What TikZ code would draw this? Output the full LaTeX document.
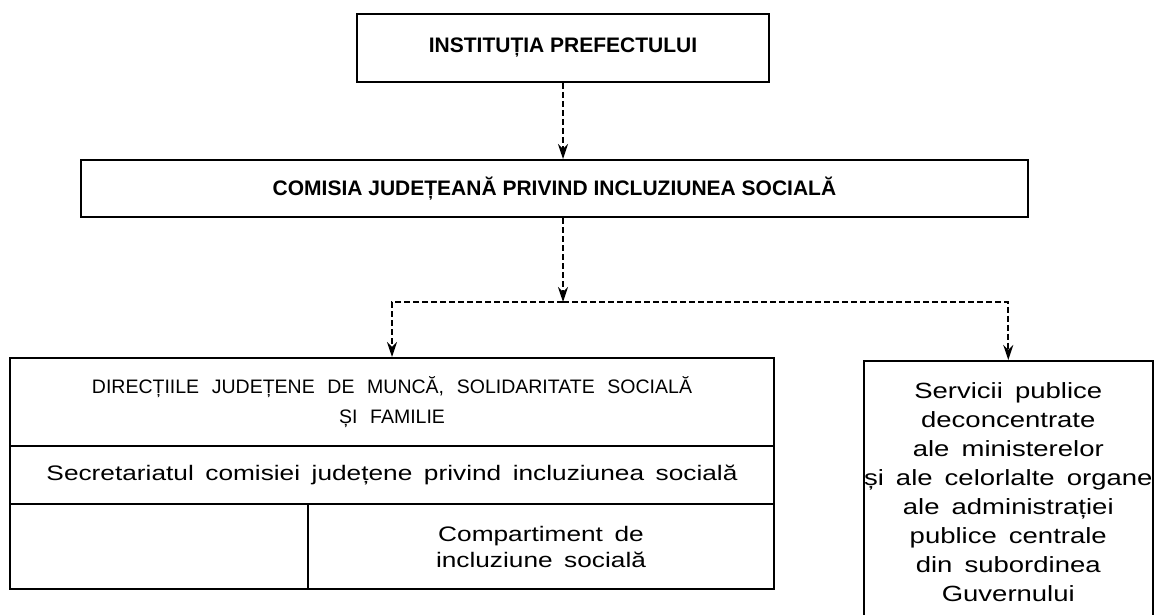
\documentclass[tikz,border=0pt]{standalone}
\usepackage{fontspec}
\setmainfont{Liberation Sans}
\newfontfamily\widesans{Liberation Sans}[FakeStretch=1.25]
\usetikzlibrary{arrows.meta}

\begin{document}
\begin{tikzpicture}[x=1pt, y=-1pt,
		box/.style = {draw, line width=2pt, inner sep=0pt, anchor=north west, align=center},
		head/.style = {font={\fontsize{21}{25}\selectfont\bfseries}},
		plain/.style = {font={\widesans\fontsize{21}{26}\selectfont\spaceskip=0.55em\relax}},
		link/.style = {line width=1.8pt, dash pattern=on 6pt off 3pt, -{Stealth[length=15pt, width=10pt]}}]
			\useasboundingbox (0,0) rectangle (1154,615);
			% top of the chart
			\node[box, head, minimum width=412pt, minimum height=68pt] (inst) at (356,13) {INSTITUȚIA PREFECTULUI};
			\node[box, head, minimum width=947pt, minimum height=57pt] (com) at (80,159) {COMISIA JUDEȚEANĂ PRIVIND INCLUZIUNEA SOCIALĂ};
			% left column
			\node[box, font={\fontsize{19.5}{30}\selectfont\spaceskip=0.65em\relax}, minimum width=764pt, minimum height=88pt] (dir) at (9,357) {DIRECȚIILE JUDEȚENE DE MUNCĂ, SOLIDARITATE SOCIALĂ\\ȘI FAMILIE};
			\node[box, plain, minimum width=764pt, minimum height=58pt] (sec) at (9,445) {Secretariatul comisiei județene privind incluziunea socială};
			\node[box, minimum width=298pt, minimum height=85pt] (blank) at (9,503) {};
			\node[box, plain, minimum width=466pt, minimum height=85pt] (comp) at (307,503) {Compartiment de\\incluziune socială};
			% right column
			\node[box, font={\widesans\fontsize{22}{29}\selectfont\spaceskip=0.55em\relax}, minimum width=286pt, minimum height=262pt] (serv) at (863,360) {Servicii publice\\deconcentrate\\ale ministerelor\\și ale celorlalte organe\\ale administrației\\publice centrale\\din subordinea\\Guvernului};
			% links
			\coordinate (split) at (563,302);
			\draw[link] (inst.south) -- (inst.south |- com.north);
			\draw[link] (split |- com.south) -- (split);
			\draw[link] (split) -| (dir.north);
			\draw[link] (split) -| (serv.north);
		\end{tikzpicture}
\end{document}
